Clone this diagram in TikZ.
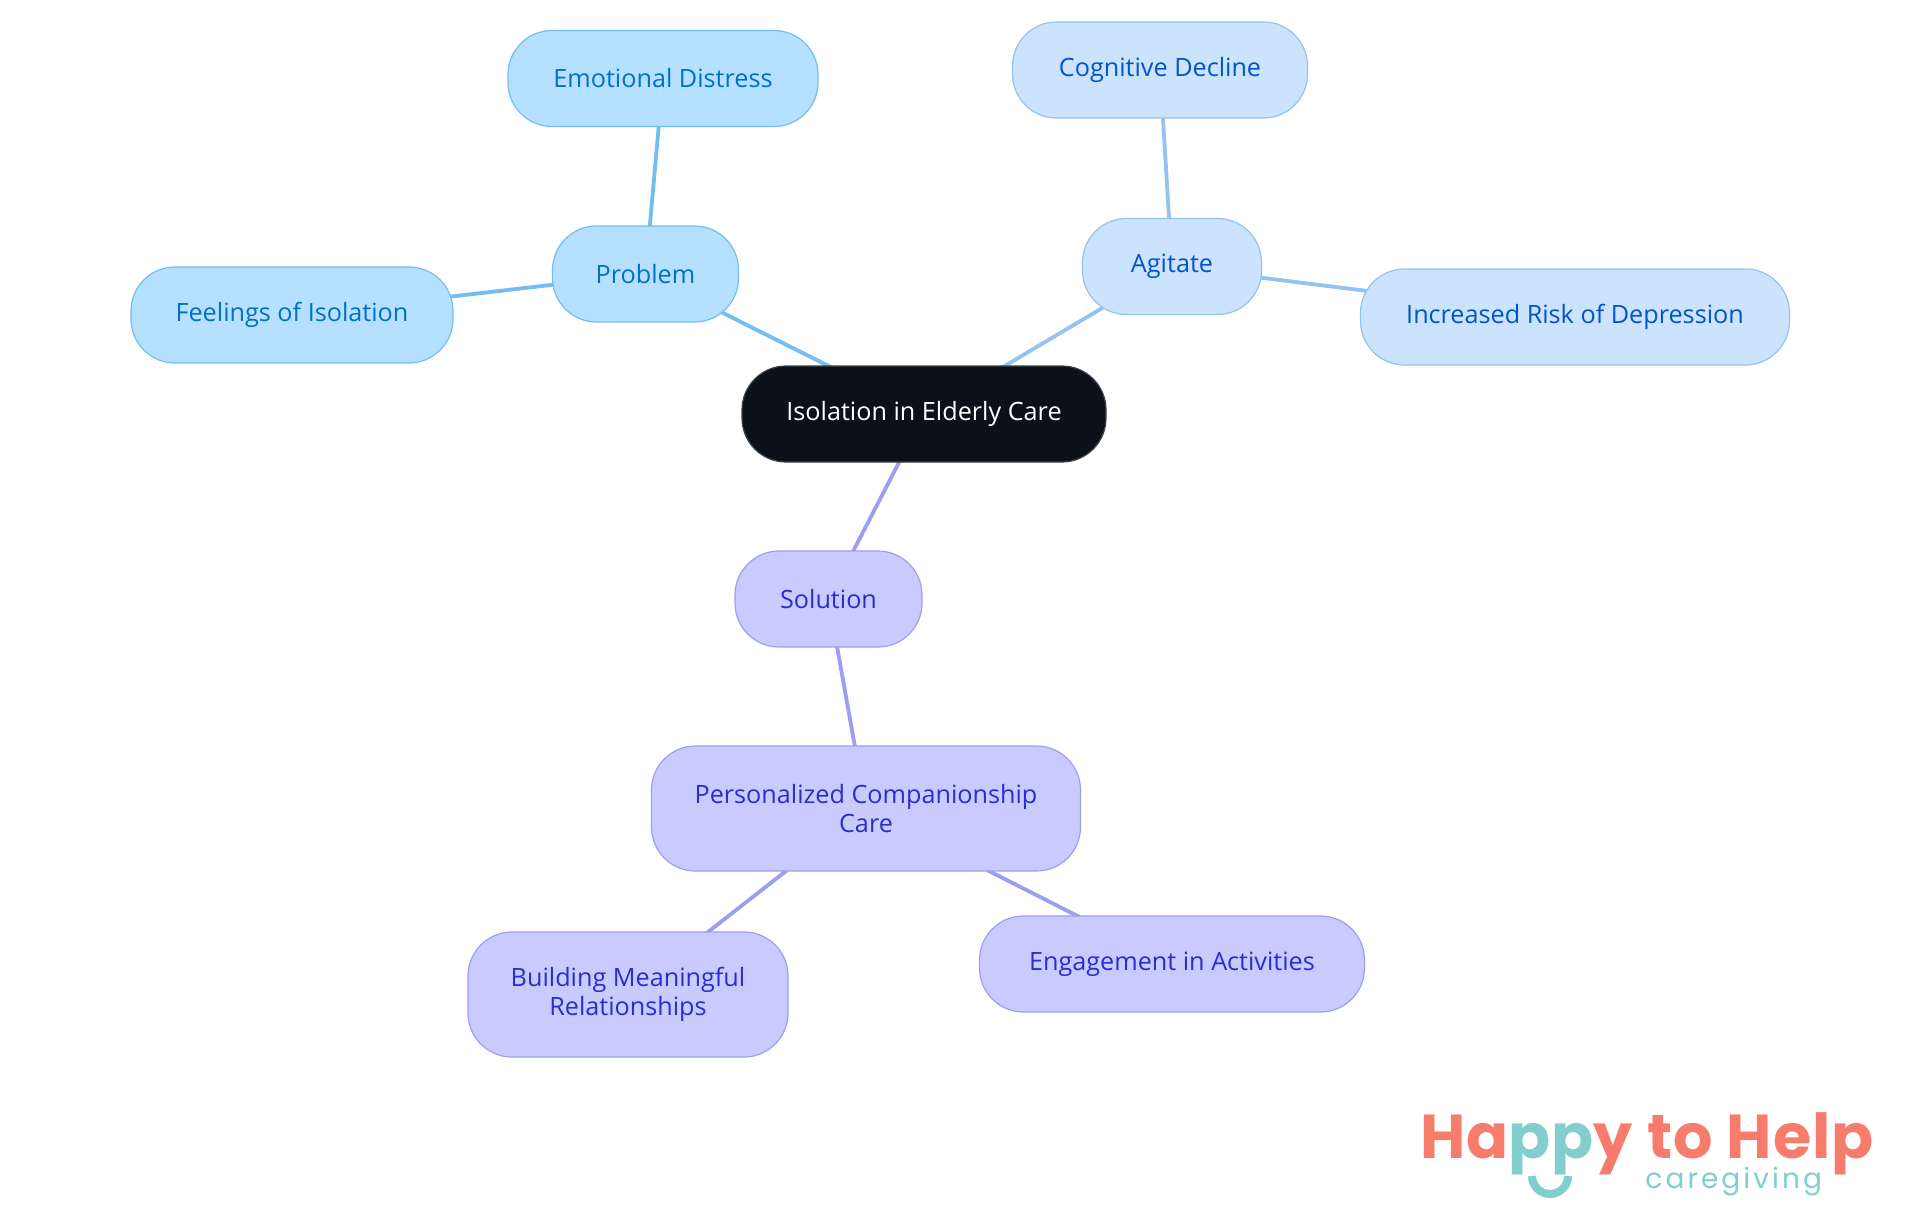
\documentclass[tikz,border=0pt]{standalone}
\usepackage{fontspec}
\setmainfont{Open Sans}
\newfontfamily\logofont{Poppins}
\usepackage{xcolor}
\usetikzlibrary{backgrounds}
\definecolor{rootfill}{HTML}{0B1119}
\definecolor{pfill}{HTML}{B6E0FF}
\definecolor{pline}{HTML}{74BDF0}
\definecolor{ptext}{HTML}{0070C9}
\definecolor{afill}{HTML}{CCE3FD}
\definecolor{aline}{HTML}{94C3F0}
\definecolor{atext}{HTML}{0055CC}
\definecolor{sfill}{HTML}{C9CBFF}
\definecolor{sline}{HTML}{9C9FF0}
\definecolor{stext}{HTML}{2C2CD0}
\definecolor{logored}{HTML}{F87C6C}
\definecolor{logoteal}{HTML}{82CECE}
\tikzset{
  box/.style={draw,rounded corners=22pt,align=center,inner sep=0pt,line width=0.6pt,
              font=\fontsize{12.6}{14.7}\selectfont,minimum height=48pt},
  rootbox/.style={box,fill=rootfill,draw=rootfill!80!white,text=white},
  pbox/.style={box,fill=pfill,draw=pline,text=ptext},
  abox/.style={box,fill=afill,draw=aline,text=atext},
  sbox/.style={box,fill=sfill,draw=sline,text=stext},
  tallbox/.style={minimum height=62.5pt},
  pedge/.style={draw=pline,line width=1.9pt},
  aedge/.style={draw=aline,line width=1.9pt},
  sedge/.style={draw=sline,line width=1.9pt},
}

\begin{document}
\begin{tikzpicture}[x=0.5pt,y=-0.5pt,every text node part/.style={text height=9.3pt,text depth=3pt}]
\useasboundingbox (0,0) rectangle (1920,1215);

% centre
\node[rootbox,minimum width=182pt] (root) at (924,414) {Isolation in Elderly Care};

% problem branch
\node[pbox,minimum width=93pt] (problem) at (645.5,274) {Problem};
\node[pbox,minimum width=155pt] (distress) at (663,78.5) {Emotional Distress};
\node[pbox,minimum width=161pt] (feelings) at (292,315) {Feelings of Isolation};

% agitate branch
\node[abox,minimum width=89.5pt] (agitate) at (1172,266.5) {Agitate};
\node[abox,minimum width=147.5pt] (decline) at (1160,70) {Cognitive Decline};
\node[abox,minimum width=214.5pt] (depression) at (1575,317) {Increased Risk of Depression};

% solution branch
\node[sbox,minimum width=93.5pt] (solution) at (828.5,599) {Solution};
\node[sbox,tallbox,minimum width=214.5pt] (companion) at (866,808.5) {Personalized Companionship\\Care};
\node[sbox,tallbox,minimum width=160pt] (relations) at (628,994.5) {Building Meaningful\\Relationships};
\node[sbox,minimum width=192.5pt] (activities) at (1172,964) {Engagement in Activities};

% connectors
\begin{scope}[on background layer]
\fill[white] (0,0) rectangle (1920,1215);
\draw[pedge] (root.center) -- (problem.center);
\draw[pedge] (problem.center) -- (distress.center);
\draw[pedge] (problem.center) -- (feelings.center);
\draw[aedge] (root.center) -- (agitate.center);
\draw[aedge] (agitate.center) -- (decline.center);
\draw[aedge] (agitate.center) -- (depression.center);
\draw[sedge] (root.center) -- (solution.center);
\draw[sedge] (solution.center) -- (companion.center);
\draw[sedge] (companion.center) -- (relations.center);
\draw[sedge] (companion.center) -- (activities.center);
\end{scope}

% logo
\node[anchor=base west,inner sep=0pt,font=\logofont\bfseries\fontsize{31}{31}\selectfont,text=logored] (logo) at (1420,1158)
  {\addfontfeature{LetterSpace=1.5}Ha\textcolor{logoteal}{pp}y to Help};
\node[anchor=base west,inner sep=0pt,font=\logofont\fontsize{14}{14}\selectfont,text=logoteal] (care) at (1645,1188)
  {\addfontfeature{LetterSpace=11}caregiving};
\draw[logoteal,line width=4pt] (1532,1176) arc[start angle=180,end angle=0,radius=18];
\end{tikzpicture}
\end{document}
